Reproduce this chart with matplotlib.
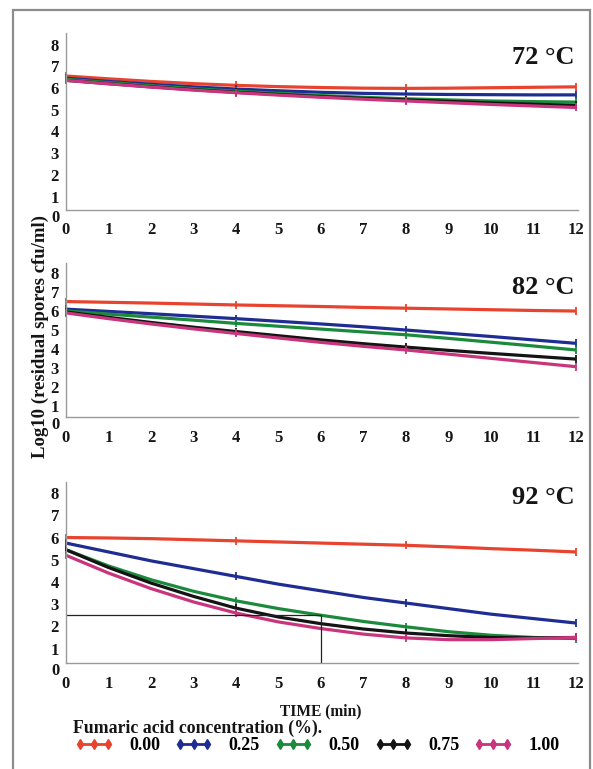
import matplotlib
matplotlib.use("Agg")
import matplotlib.pyplot as plt
from matplotlib.lines import Line2D
from matplotlib.patches import Rectangle

plt.rcParams['font.family'] = ['Liberation Serif', 'DejaVu Serif']
plt.rcParams['font.weight'] = 'bold'

# ---- data -------------------------------------------------------------
time_min = [0, 1, 2, 3, 4, 5, 6, 7, 8, 9, 10, 11, 12]
x_ticks = [0, 1, 2, 3, 4, 5, 6, 7, 8, 9, 10, 11, 12]
y_ticks = [1, 2, 3, 4, 5, 6, 7, 8]

concentrations = ["0.00", "0.25", "0.50", "0.75", "1.00"]
colors = ["#e8432e", "#1f2d92", "#1c8a3c", "#141414", "#c9357c"]

temperatures = ["72 °C", "82 °C", "92 °C"]

# 72 °C fitted curves (log10 cfu/ml)
t72_000 = [6.55, 6.42, 6.30, 6.20, 6.12, 6.06, 6.02, 5.99, 5.98, 5.99, 6.01, 6.03, 6.05]
t72_025 = [6.45, 6.30, 6.17, 6.05, 5.95, 5.87, 5.80, 5.75, 5.72, 5.70, 5.69, 5.68, 5.68]
t72_050 = [6.40, 6.25, 6.10, 5.97, 5.85, 5.75, 5.65, 5.57, 5.50, 5.45, 5.40, 5.37, 5.35]
t72_075 = [6.35, 6.20, 6.05, 5.92, 5.80, 5.70, 5.60, 5.52, 5.45, 5.38, 5.31, 5.25, 5.20]
t72_100 = [6.35, 6.19, 6.04, 5.90, 5.78, 5.67, 5.57, 5.48, 5.40, 5.32, 5.24, 5.17, 5.10]

# 82 °C fitted curves
t82_000 = [6.50, 6.46, 6.42, 6.37, 6.32, 6.28, 6.24, 6.19, 6.15, 6.11, 6.07, 6.03, 6.00]
t82_025 = [6.10, 5.98, 5.86, 5.73, 5.60, 5.46, 5.32, 5.17, 5.00, 4.83, 4.66, 4.48, 4.30]
t82_050 = [6.00, 5.84, 5.68, 5.52, 5.35, 5.20, 5.05, 4.90, 4.75, 4.56, 4.36, 4.16, 3.95]
t82_075 = [5.95, 5.67, 5.40, 5.15, 4.92, 4.70, 4.48, 4.28, 4.10, 3.93, 3.77, 3.62, 3.47]
t82_100 = [5.90, 5.60, 5.32, 5.06, 4.82, 4.58, 4.35, 4.14, 3.95, 3.73, 3.51, 3.29, 3.07]

# 92 °C fitted curves
t92_000 = [6.00, 5.98, 5.95, 5.90, 5.85, 5.80, 5.75, 5.70, 5.65, 5.58, 5.50, 5.43, 5.35]
t92_025 = [5.75, 5.35, 4.95, 4.60, 4.25, 3.90, 3.60, 3.30, 3.05, 2.80, 2.55, 2.35, 2.15]
t92_050 = [5.45, 4.72, 4.10, 3.58, 3.15, 2.80, 2.50, 2.22, 1.98, 1.76, 1.60, 1.50, 1.45]
t92_075 = [5.45, 4.65, 3.95, 3.35, 2.82, 2.42, 2.12, 1.88, 1.70, 1.58, 1.50, 1.48, 1.50]
t92_100 = [5.20, 4.40, 3.70, 3.10, 2.60, 2.20, 1.90, 1.65, 1.48, 1.40, 1.40, 1.45, 1.50]

panel_series = [
    [t72_000, t72_025, t72_050, t72_075, t72_100],
    [t82_000, t82_025, t82_050, t82_075, t82_100],
    [t92_000, t92_025, t92_050, t92_075, t92_100],
]

threshold_log = 2.5
threshold_time = 6

# ---- layout ------------------------------------------------------------
W, H = 593, 769
TXT = "#151515"
fig = plt.figure(figsize=(W / 100, H / 100), dpi=100)
fig.patch.set_facecolor("white")
fig.patches.append(Rectangle((13 / W, -0.01), (590 - 13) / W, 1 - 10 / H + 0.01,
                             transform=fig.transFigure, fill=False,
                             edgecolor="#8c8c8c", lw=1.6))

# (top px, bottom px, ylim low, ylim high, title y frac)
panels = [
    (33, 210, 0.38, 8.53, 0.864),
    (263, 417, 0.42, 8.53, 0.844),
    (482, 663, 0.35, 8.50, 0.912),
]
ax_left, ax_right = 66, 578

for i, (top, bot, ylo, yhi, ty) in enumerate(panels):
    ax = fig.add_axes([ax_left / W, 1 - bot / H, (ax_right - ax_left) / W, (bot - top) / H])
    ax.set_facecolor("none")
    for series, col in zip(panel_series[i], colors):
        ax.plot(time_min, series, color=col, lw=2.3, marker="|", ms=6, mew=1.3,
                markevery=[0, 4, 8, 12], solid_capstyle="butt", clip_on=False)
    if i == 2:
        ax.hlines(threshold_log, 0, threshold_time, color="#222222", lw=0.9)
        ax.vlines(threshold_time, ylo, threshold_log, color="#222222", lw=0.9)
    ax.set_xlim(0, 12.05)
    ax.set_ylim(ylo, yhi)
    ax.set_xticks(x_ticks)
    ax.set_yticks(y_ticks)
    ax.tick_params(axis="both", length=0, labelsize=12, colors=TXT)
    ax.tick_params(axis="x", pad=9)
    ax.tick_params(axis="y", pad=5)
    ax.text(-0.15, 0.0, "0", ha="right", va="center", fontsize=12,
            color=TXT, clip_on=False)
    for s in ["top", "right"]:
        ax.spines[s].set_visible(False)
    for s in ["left", "bottom"]:
        ax.spines[s].set_color("#9a9a9a")
        ax.spines[s].set_linewidth(1.0)
    ax.text(0.994, ty, temperatures[i], transform=ax.transAxes, ha="right",
            va="center", fontsize=19, color=TXT)

fig.text(40 / W, 1 - 336 / H, "Log10 (residual spores cfu/ml)", rotation=90,
         ha="center", va="center", fontsize=13.5, color=TXT)
fig.text(321 / W, 1 - 711 / H, "TIME (min)", ha="center", va="center",
         fontsize=11.2, color=TXT)
fig.text(73 / W, 1 - 728 / H, "Fumaric acid concentration (%).", ha="left",
         va="center", fontsize=12.8, color=TXT)

handles = [Line2D([], [], color=c, lw=2.0, marker="d", ms=5.5) for c in colors]
fig.legend(handles, concentrations, loc="center left",
           bbox_to_anchor=(75 / W, 1 - 746 / H), ncol=5, frameon=False,
           fontsize=13, numpoints=3, handlelength=2.1, handletextpad=0.9,
           columnspacing=0.8, borderpad=0, borderaxespad=0)

fig.savefig("out.png", dpi=100, facecolor="white")
